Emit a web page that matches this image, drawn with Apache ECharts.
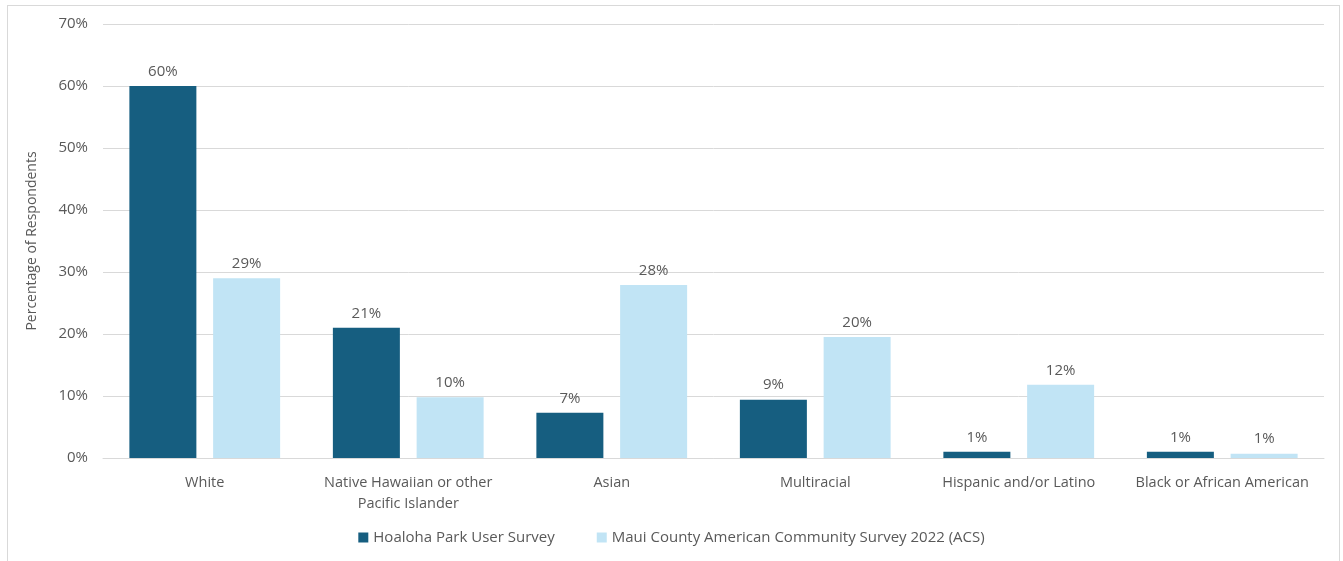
<!DOCTYPE html>
<html>
<head>
<meta charset="utf-8">
<script src="https://cdn.jsdelivr.net/npm/echarts@6/dist/echarts.min.js"></script>
<style>
  html, body { margin: 0; padding: 0; background: #fff; }
  #frame { position: absolute; left: 7px; top: 5px; width: 1333px; height: 560px; border: 1px solid #d9d9d9; box-sizing: border-box; border-bottom: none; }
  #chart { position: absolute; left: 0; top: 0; width: 1343px; height: 561px; }
</style>
</head>
<body>
<div id="frame"></div>
<div id="chart"></div>
<script>
const categories = [
  'White',
  'Native Hawaiian or other\nPacific Islander',
  'Asian',
  'Multiracial',
  'Hispanic and/or Latino',
  'Black or African American'
];
const seriesNames = ['Hoaloha Park User Survey', 'Maui County American Community Survey 2022 (ACS)'];
const parkSurvey = [60.0, 21.0, 7.3, 9.4, 1.0, 1.0];
const acs2022 = [29.0, 9.8, 27.9, 19.5, 11.8, 0.7];
const yTicks = [0, 10, 20, 30, 40, 50, 60, 70];

const textColor = '#595959';
const fontFamily = '"Open Sans", Lato, sans-serif';

const chart = echarts.init(document.getElementById('chart'), null, { renderer: 'canvas' });

const labelOpt = {
  show: true,
  position: 'top',
  distance: 7,
  color: textColor,
  fontSize: 15,
  fontFamily: fontFamily,
  formatter: p => Math.round(p.value) + '%'
};

chart.setOption({
  animation: false,
  grid: { left: 103, right: 19, top: 24, bottom: 103 },
  legend: {
    bottom: 11,
    left: 'center',
    itemWidth: 10,
    itemHeight: 10,
    itemGap: 42,
    icon: 'rect',
    textStyle: { color: textColor, fontSize: 15, fontFamily: fontFamily },
    data: seriesNames
  },
  xAxis: {
    type: 'category',
    data: categories,
    axisLine: { lineStyle: { color: '#d9d9d9', width: 1 } },
    axisTick: { show: false },
    axisLabel: {
      color: textColor, fontSize: 14.5, fontFamily: fontFamily,
      margin: 14, lineHeight: 21, interval: 0
    }
  },
  yAxis: {
    type: 'value',
    min: yTicks[0],
    max: yTicks[yTicks.length - 1],
    interval: 10,
    name: 'Percentage of Respondents',
    nameLocation: 'middle',
    nameGap: 64,
    nameTextStyle: { color: textColor, fontSize: 14, fontFamily: fontFamily },
    axisLine: { show: false },
    axisTick: { show: false },
    splitLine: { lineStyle: { color: '#d9d9d9', width: 1 } },
    axisLabel: {
      color: textColor, fontSize: 15, fontFamily: fontFamily, margin: 15,
      formatter: v => v + '%'
    }
  },
  series: [
    {
      name: seriesNames[0],
      type: 'bar',
      data: parkSurvey,
      barWidth: 67,
      barGap: '25%',
      itemStyle: { color: '#165e80' },
      label: labelOpt
    },
    {
      name: seriesNames[1],
      type: 'bar',
      data: acs2022,
      barWidth: 67,
      barGap: '25%',
      itemStyle: { color: '#c1e4f5' },
      label: labelOpt
    }
  ]
});
</script>
</body>
</html>
